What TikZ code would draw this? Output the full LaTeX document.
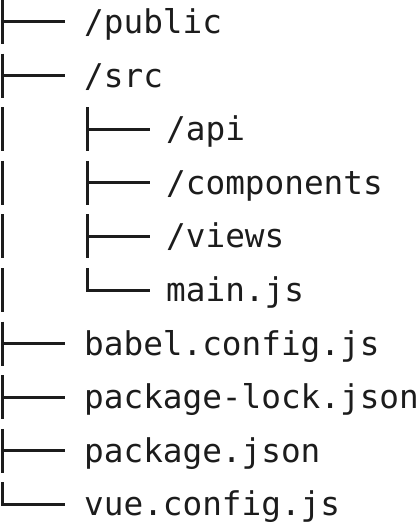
\documentclass[tikz,border=0pt]{standalone}
\usepackage{fontspec}
\setmonofont{DejaVu Sans Mono}
\definecolor{ink}{HTML}{1C1C1C}
\begin{document}
\begin{tikzpicture}[x=1pt,y=-1pt,
  entry/.style={anchor=base west, inner sep=0pt, text=ink,
    font=\ttfamily\fontsize{32.7}{36}\selectfont},
  branch/.style={draw=ink, line width=3pt}]
\useasboundingbox (0,0) rectangle (419,524);
% row i sits at y = 22 + 53.6 i; depth 1 = top level, 2 = inside /src
% last = 1 marks the final entry of its folder
\foreach \i/\depth/\last/\txt in {
  0/1/0/{/public},
  1/1/0/{/src},
  2/2/0/{/api},
  3/2/0/{/components},
  4/2/0/{/views},
  5/2/1/{main.js},
  6/1/0/{babel.config.js},
  7/1/0/{package-lock.json},
  8/1/0/{package.json},
  9/1/1/{vue.config.js}}{
  \pgfmathsetmacro{\y}{22+53.6*\i}
  \pgfmathsetmacro{\bx}{\depth==1 ? 2.5 : 87.5}
  \pgfmathsetmacro{\ex}{\depth==1 ? 65 : 150}
  \pgfmathsetmacro{\tx}{\depth==1 ? 84 : 166}
  \node[entry] (n\i) at (\tx,\y+11.5) {\txt};
  \coordinate (top\i) at (\bx,\y-22);
  \coordinate (mid\i) at (\bx,\y);
  \coordinate (bot\i) at (\bx,\y+22);
  \coordinate (tip\i) at (\ex,\y);
  \ifnum\last=1
    \draw[branch] (top\i) -- ([yshift=1.5pt]mid\i);
    \draw[branch] ([xshift=-1.5pt]mid\i) -- (tip\i);
  \else
    \draw[branch] (top\i) -- (bot\i);
    \draw[branch] (mid\i) -- (tip\i);
  \fi
  % the /src column keeps running beside its children
  \ifnum\depth=2
    \coordinate (ptop\i) at (2.5,\y-22);
    \coordinate (pbot\i) at (2.5,\y+22);
    \draw[branch] (ptop\i) -- (pbot\i);
  \fi
}
\end{tikzpicture}
\end{document}
